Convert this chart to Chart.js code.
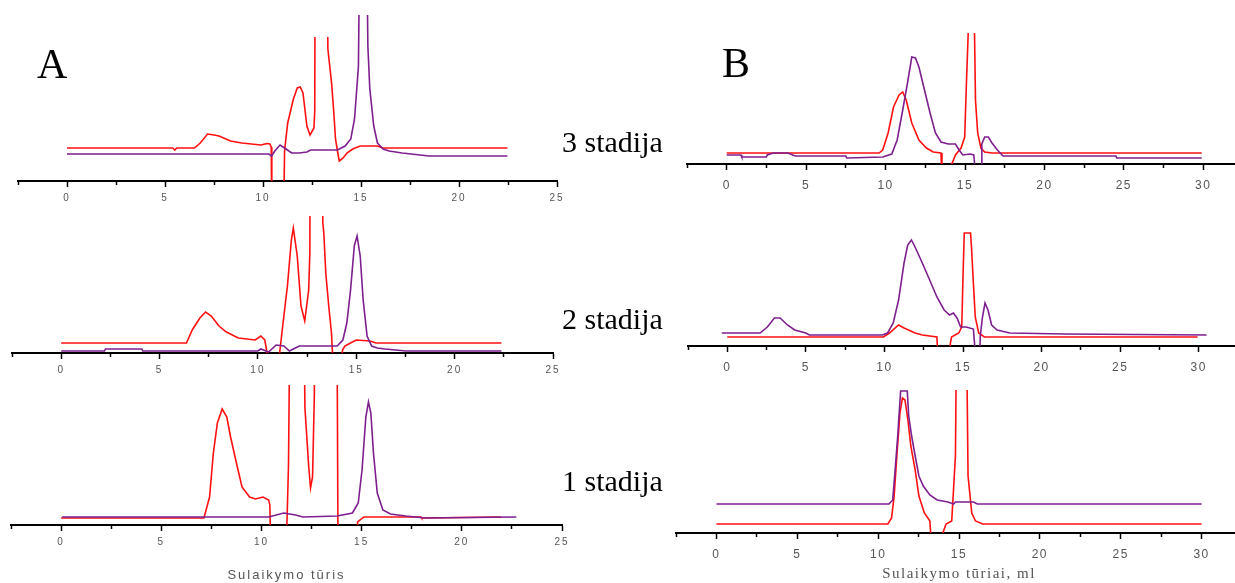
<!DOCTYPE html>
<html>
<head>
<meta charset="utf-8">
<script src="https://cdn.jsdelivr.net/npm/chart.js@4.4.1/dist/chart.umd.min.js"></script>
<style>
  body { margin: 0; width: 1235px; height: 583px; overflow: hidden; background: #fff; position: relative; }
  canvas { position: absolute; }
  .lbl { position: absolute; font-family: "Liberation Serif", "Times New Roman", serif; color: #000; white-space: nowrap; line-height: 1; }
</style>
</head>
<body>
<script>
// elution volume (x) vs detector signal (y, arbitrary units)
// A column
const a3Purple = [[0,27],[10.3,27],[10.44,25],[10.6,30],[10.87,36],[11.1,33],[11.46,28],[11.85,28],[12.24,29],[12.43,31],[13.8,31],[14.19,35],[14.48,42],[14.67,62],[14.87,115],[14.96,300],[15.26,300],[15.35,135],[15.45,92],[15.65,55],[15.84,38],[16.13,32],[16.43,30],[17.1,28],[18.47,25],[22.47,25]];
const a3Red = [[0,33],[5.4,33],[5.5,31],[5.6,33],[6.5,33],[6.8,38],[7.17,47],[7.5,46],[7.76,45],[8.34,40],[8.92,38],[9.9,36],[10.2,37.5],[10.35,37],[10.42,34],[10.45,-40],[11.05,-40],[11.1,30],[11.26,58],[11.55,82],[11.75,93],[11.9,94],[12.04,88],[12.24,55],[12.4,46],[12.6,53],[12.64,70],[12.67,300],[13.25,300],[13.31,132],[13.5,98],[13.6,72],[13.7,42],[13.8,30],[13.89,20],[14.09,23],[14.28,28],[14.58,32],[14.96,35],[15.84,35],[16.1,33],[22.47,33]];
const a2Purple = [[0,2],[2.2,2],[2.25,4],[4.1,4],[4.15,2],[10.0,2],[10.15,4],[10.54,1],[10.93,8],[11.32,7],[11.6,2],[11.8,4],[12.1,7],[14.03,7],[14.32,13],[14.52,30],[14.71,63],[14.9,107],[15.04,117],[15.2,97],[15.35,53],[15.55,17],[15.78,7],[16.07,5],[16.46,4],[17.53,2],[22.38,2]];
const a2Red = [[0,10],[6.37,10],[6.66,23],[7.05,35],[7.34,41],[7.63,37],[8.02,27],[8.4,21],[9.0,15],[9.86,13],[10.15,17],[10.35,13],[10.44,3],[10.54,-20],[11.05,-20],[11.12,3],[11.32,37],[11.5,67],[11.7,113],[11.8,125],[12.0,97],[12.19,47],[12.38,32],[12.58,63],[12.64,100],[12.67,300],[13.22,300],[13.3,130],[13.35,120],[13.45,80],[13.6,47],[13.74,20],[13.84,-20],[14.23,-20],[14.3,3],[14.42,7],[14.8,11],[15.0,13],[15.7,12],[16.0,10],[22.38,10]];
const a1Purple = [[0.05,8],[10.36,8],[11.12,12],[11.7,10],[12.07,8],[13.78,9],[14.54,12],[14.83,22],[15.02,55],[15.21,108],[15.34,123],[15.46,112],[15.59,72],[15.78,32],[16.06,15],[16.44,11],[17.2,9],[18.16,7],[22.72,8]];
const a1Red = [[0,7],[7.13,7],[7.41,28],[7.6,72],[7.8,102],[8.04,116],[8.27,108],[8.46,88],[8.75,62],[9.03,38],[9.41,28],[9.7,26],[10.08,28],[10.36,25],[10.42,20],[10.46,-20],[11.22,-20],[11.27,0],[11.35,60],[11.46,300],[12.07,300],[12.17,117],[12.36,58],[12.45,37],[12.55,48],[12.64,130],[12.68,300],[13.75,300],[13.82,-20],[14.73,-20],[14.8,3],[15.11,8],[17.97,8],[18.0,7],[21.96,8]];
// B column
const b3Purple = [[0,9],[0.9,9],[0.95,7],[2.5,7],[2.55,9],[2.94,11],[3.85,11],[4.31,8],[7.5,8],[7.55,6],[9.82,7],[10.39,10],[10.73,24],[11.08,54],[11.38,81],[11.65,107],[11.88,106],[12.1,97],[12.45,74],[12.8,51],[13.14,31],[13.49,22],[13.94,20],[14.4,20],[14.63,14],[14.86,9],[15.32,10],[15.55,9],[15.73,-20],[16.02,-20],[16.06,20],[16.24,27],[16.47,27],[16.7,21],[17.04,14],[17.39,8],[24.5,8],[24.55,6],[29.9,6]];
const b3Red = [[0,11],[9.59,11],[9.82,14],[10.16,31],[10.5,57],[10.85,69],[11.08,72],[11.3,64],[11.65,41],[12.1,24],[12.57,16],[13.0,12],[13.49,11],[13.55,-20],[14.12,-20],[14.17,0],[14.4,9],[14.75,16],[14.98,27],[15.09,81],[15.2,130],[15.28,300],[15.55,300],[15.6,130],[15.66,64],[15.8,31],[16.0,16],[16.24,12],[16.7,11],[29.9,11]];
const b2Purple = [[-0.35,13],[2.09,13],[2.55,19],[3.0,28],[3.36,28],[3.83,21],[4.29,16],[5.0,13],[5.22,11],[9.86,11],[10.2,13],[10.56,23],[10.9,46],[11.25,83],[11.48,101],[11.72,106],[11.95,99],[12.41,83],[12.88,66],[13.34,49],[13.8,36],[14.15,31],[14.39,33],[14.62,28],[14.85,19],[15.2,19],[15.66,17],[15.85,-20],[16.05,-20],[16.1,10],[16.24,29],[16.4,43],[16.59,36],[16.82,21],[17.17,16],[17.98,13],[21.46,12],[30.5,11]];
const b2Red = [[0,9],[9.93,9],[10.32,13],[10.9,21],[11.25,18],[11.95,13],[12.41,11],[13.34,9],[13.42,-20],[14.12,-20],[14.2,3],[14.27,9],[14.73,13],[14.92,19],[15.0,69],[15.08,113],[15.48,113],[15.54,99],[15.66,63],[15.78,29],[16.0,13],[16.36,9],[29.93,9]];
const b1Purple = [[0,29],[10.67,29],[10.9,33],[11.05,63],[11.21,97],[11.39,142],[11.8,142],[11.89,117],[12.07,97],[12.29,77],[12.52,57],[12.79,47],[13.2,38],[13.65,33],[14.32,31],[14.66,29],[14.78,31],[15.0,31],[15.9,31],[16.13,29],[30,29]];
const b1Red = [[0,9],[10.6,9],[10.83,15],[10.99,37],[11.17,80],[11.35,120],[11.5,135],[11.66,133],[11.84,113],[12.02,87],[12.29,63],[12.52,37],[12.86,20],[13.2,12],[13.33,-20],[13.95,-20],[14.0,0],[14.2,9],[14.55,12],[14.78,77],[14.9,300],[15.4,300],[15.56,57],[15.79,20],[16.02,12],[16.47,9],[30,9]];

const xMaxA = 25;
const xMaxB = 32.5;
const xMin = -2.5;
const stages = ['3 stadija', '2 stadija', '1 stadija'];
const titleA = 'Sulaikymo tūris';
const titleB = 'Sulaikymo tūriai, ml';

const PURPLE = '#7e1f8f';
const RED = '#ff1010';
const PAD_L = 4, PAD_R = 12;

function toXY(arr) {
    return arr.map(p => ({ x: p[0], y: p[1] }));
}

function panel(p) {
    const axisH = p.axisH || 30;
    const c = document.createElement('canvas');
    c.width = p.right - p.left + PAD_L + PAD_R;
    c.height = p.bottom - p.top + axisH;
    c.style.left = (p.left - PAD_L) + 'px';
    c.style.top = p.top + 'px';
    document.body.appendChild(c);
    new Chart(c.getContext('2d'), {
        type: 'line',
        data: {
            datasets: [{
                data: toXY(p.purple),
                borderColor: PURPLE,
                borderWidth: 1.6,
                pointRadius: 0,
                tension: 0,
                clip: { left: 2, right: 2, top: 0, bottom: 0 }
            }, {
                data: toXY(p.red),
                borderColor: RED,
                borderWidth: 1.6,
                pointRadius: 0,
                tension: 0,
                clip: { left: 2, right: 2, top: -(p.redCut || 0), bottom: 0 }
            }]
        },
        options: {
            responsive: false,
            animation: false,
            events: [],
            layout: { padding: { left: PAD_L, right: PAD_R, top: 0, bottom: 0 } },
            plugins: { legend: { display: false }, tooltip: { enabled: false } },
            scales: {
                x: {
                    type: 'linear',
                    min: xMin,
                    max: p.xMax,
                    afterFit: s => { s.height = axisH; },
                    ticks: {
                        stepSize: 2.5,
                        autoSkip: false,
                        maxRotation: 0,
                        padding: p.tickPad,
                        color: '#555',
                        font: { family: 'Arial, "Liberation Sans", sans-serif', size: p.tickSize },
                        callback: v => (Math.abs(v % 5) < 1e-6 && v <= 30 ? String(Math.round(v)) : '')
                    },
                    grid: {
                        drawOnChartArea: false,
                        color: '#000',
                        tickColor: '#000',
                        tickLength: 6,
                        tickWidth: 1.5,
                        tickBorderDash: ctx => (ctx.tick && Math.abs(ctx.tick.value % 5) < 1e-6 ? [] : [3, 10])
                    },
                    border: { display: true, color: '#000', width: 2 },
                    title: p.title ? {
                        display: true,
                        text: p.title,
                        color: '#555',
                        padding: { top: 0, bottom: 0 },
                        font: { family: p.titleFont, size: p.titleSize }
                    } : { display: false }
                },
                y: { display: false, min: 0, max: p.yMax }
            }
        },
        plugins: [{
            id: 'spacing',
            beforeDraw(chart) { chart.ctx.letterSpacing = p.spacing; }
        }]
    });
}

panel({ left: 17, right: 557, top: 15, bottom: 181, xMax: xMaxA, yMax: 166, redCut: 22, purple: a3Purple, red: a3Red, tickSize: 10, tickPad: 5, spacing: '2px' });
panel({ left: 11, right: 553, top: 216, bottom: 353, xMax: xMaxA, yMax: 137, purple: a2Purple, red: a2Red, tickSize: 10, tickPad: 5, spacing: '2px' });
panel({ left: 10, right: 562, top: 385, bottom: 525, xMax: xMaxA, yMax: 140, purple: a1Purple, red: a1Red, tickSize: 10, tickPad: 5, spacing: '2px', axisH: 58, title: titleA, titleSize: 13, titleFont: 'Arial, "Liberation Sans", sans-serif' });
panel({ left: 683, right: 1243, top: 33, bottom: 164, xMax: xMaxB, yMax: 131, purple: b3Purple, red: b3Red, tickSize: 12, tickPad: 8, spacing: '1.5px' });
panel({ left: 684, right: 1238, top: 201, bottom: 346, xMax: xMaxB, yMax: 145, purple: b2Purple, red: b2Red, tickSize: 12, tickPad: 8, spacing: '1.5px' });
panel({ left: 672, right: 1242, top: 390, bottom: 533, xMax: xMaxB, yMax: 143, purple: b1Purple, red: b1Red, tickSize: 12, tickPad: 8, spacing: '1.5px', axisH: 50, title: titleB, titleSize: 15, titleFont: '"Liberation Serif", "Times New Roman", serif' });

function label(text, left, top, size) {
    const d = document.createElement('div');
    d.className = 'lbl';
    d.textContent = text;
    d.style.left = left + 'px';
    d.style.top = top + 'px';
    d.style.fontSize = size + 'px';
    document.body.appendChild(d);
}
label('A', 37, 43, 42);
label('B', 722, 42, 42);
label(stages[0], 562, 127, 30);
label(stages[1], 562, 304, 30);
label(stages[2], 562, 466, 30);
</script>
</body>
</html>
